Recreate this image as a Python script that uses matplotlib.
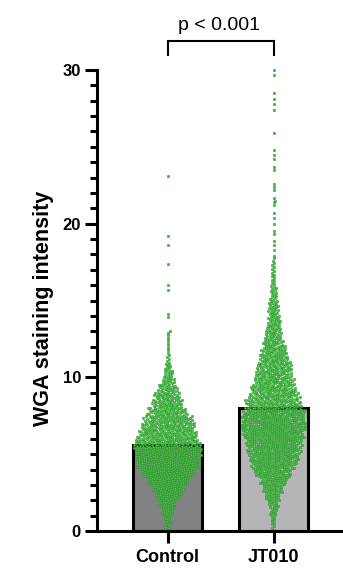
import numpy as np
import matplotlib
matplotlib.use("Agg")
import matplotlib.pyplot as plt
from matplotlib.ticker import MultipleLocator

plt.rcParams['font.family'] = ['Liberation Sans', 'DejaVu Sans']

# ---------------- data ----------------
categories = ["Control", "JT010"]
bar_means = [5.6, 8.0]
y_label = "WGA staining intensity"
p_text = "p < 0.001"

# histogram of cells per 0.5-unit bin, starting at 0
bin_width = 0.5
control_counts = [6, 9, 13, 19, 27, 38, 50, 62, 74, 80, 81, 78, 72, 65, 59, 48,
                  38, 31, 24, 15, 11, 7, 4, 3, 3, 3]
jt010_counts = [4, 6, 9, 12, 18, 24, 33, 43, 53, 60, 65, 68, 74, 78, 77, 74,
                65, 60, 54, 48, 44, 41, 35, 31, 25, 20, 18, 15, 13, 12, 8, 7,
                5, 4, 4, 3]
# sparse high values read individually
control_high = [13.0, 13.9, 14.1, 15.7, 16.0, 17.4, 18.6, 19.2, 23.1]
jt010_high = [18.3, 18.6, 18.9, 19.3, 19.5, 20.0, 20.4, 20.7, 21.2, 21.4, 21.5,
              21.7, 22.2, 22.4, 22.6, 23.5, 23.7, 24.2, 24.5, 24.8, 25.9, 27.4,
              27.8, 28.1, 28.5, 29.7, 30.0]


def values_from_hist(counts, extra):
    vals = []
    for k, n in enumerate(counts):
        lo = k * bin_width
        vals.extend(lo + (np.arange(n) + 0.5) / n * bin_width)
    vals.extend(extra)
    return np.array(vals)


groups = [values_from_hist(control_counts, control_high),
          values_from_hist(jt010_counts, jt010_high)]

# ---------------- figure ----------------
W, H = 343, 575
fig = plt.figure(figsize=(W / 100, H / 100), dpi=100)
ax_left, ax_right, ax_top, ax_bot = 97, 343, 70, 531
ax = fig.add_axes([ax_left / W, 1 - ax_bot / H, (ax_right - ax_left) / W,
                   (ax_bot - ax_top) / H])
x0_px, x1_px = 167.5, 273.5
ux = x1_px - x0_px
ax.set_xlim((ax_left - x0_px) / ux, (ax_right - x0_px) / ux)
ax.set_ylim(0, 30)
uy = (ax_bot - ax_top) / 30.0


def beeswarm(vals_px, d):
    ys = np.sort(vals_px)
    xs = np.zeros_like(ys)
    for i in range(len(ys)):
        y = ys[i]
        j0 = np.searchsorted(ys[:i], y - d, side='right')
        ny = ys[j0:i]
        nx = xs[j0:i]
        if len(ny) == 0:
            xs[i] = 0.0
            continue
        dy = y - ny
        dx = np.sqrt(np.maximum(d * d - dy * dy, 0))
        cands = np.concatenate([[0.0], nx + dx, nx - dx])
        ok = ((cands[:, None] - nx[None, :]) ** 2 + dy[None, :] ** 2
              >= d * d - 1e-6).all(axis=1)
        valid = cands[ok]
        bias = 1e-3 if i % 2 else -1e-3
        xs[i] = valid[np.argmin(np.abs(valid) + bias * np.sign(valid))]
    return ys, xs


bar_colors = ["#828282", "#b5b5b7"]
positions = np.arange(len(categories))
ax.bar(positions, bar_means, width=0.65, color=bar_colors, edgecolor="black",
       linewidth=2.2, zorder=1)

d_px = 2.5
for pos, vals in zip(positions, groups):
    ys_px, xs_px = beeswarm(vals * uy, d_px)
    ax.scatter(pos + xs_px / ux, ys_px / uy, s=3.2, facecolor="#4fbd4f",
               edgecolor="#239a23", linewidth=0.35, zorder=3, clip_on=False)

# axes styling
for side in ("top", "right"):
    ax.spines[side].set_visible(False)
for side in ("left", "bottom"):
    ax.spines[side].set_linewidth(2.2)
    ax.spines[side].set_zorder(4)
ax.set_xticks(positions)
ax.set_xticklabels(categories, fontsize=13, fontweight="bold")
ax.set_yticks([0, 10, 20, 30])
ax.set_yticklabels(["0", "10", "20", "30"], fontsize=12, fontweight="bold")
ax.yaxis.set_minor_locator(MultipleLocator(1))
ax.tick_params(axis="y", which="major", length=8.6, width=2.2, pad=3)
ax.tick_params(axis="y", which="minor", length=5, width=2.2)
ax.tick_params(axis="x", which="major", length=8.6, width=2.2, pad=4)

fig.text(43 / W, 1 - 308.5 / H, y_label, rotation=90, ha="center",
         va="center", fontsize=15.5, fontweight="bold")

# significance bracket
yb_top = (ax_bot - 41) / uy
yb_bot = (ax_bot - 55) / uy
ax.plot([0, 0, 1, 1], [yb_bot, yb_top, yb_top, yb_bot], color="black",
        linewidth=1.5, clip_on=False, solid_joinstyle="miter")
fig.text(219 / W, 1 - 30 / H, p_text, ha="center", va="baseline", fontsize=14)

fig.savefig("out.png", dpi=100)
